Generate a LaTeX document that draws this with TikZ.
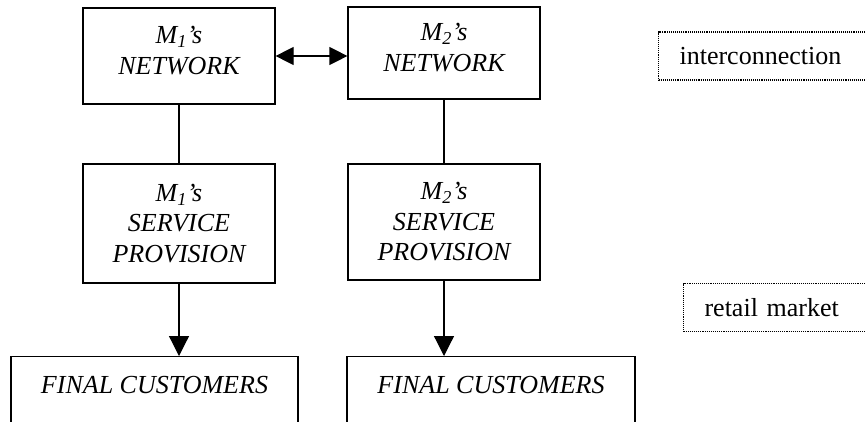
\documentclass[tikz,border=0pt]{standalone}
\usepackage{fontspec}
\setmainfont{Liberation Serif}
\usepackage{tikz}
\usetikzlibrary{arrows.meta, positioning}

\begin{document}
\begin{tikzpicture}[
		x=1pt, y=-1pt,
		font=\fontsize{26}{30.5}\selectfont,
		box/.style={draw, line width=1.2pt, align=center, font=\fontsize{26}{30.5}\selectfont\itshape, inner sep=0pt, minimum width=192pt},
		open/.style={draw, line width=1.2pt, font=\fontsize{26}{30.5}\selectfont\itshape, inner xsep=0pt, inner ysep=0pt, anchor=north, text height=37pt, text depth=70pt},
		note/.style={draw, densely dotted, line width=1.1pt, align=left, anchor=west, inner xsep=21pt, inner ysep=0pt, text width=200pt, minimum height=48pt},
		arr/.style={-{Triangle[length=20pt, width=20pt]}, line width=1.2pt},
		both/.style={{Triangle[length=18pt, width=18pt]}-{Triangle[length=18pt, width=18pt]}, line width=1.2pt}
	]
		\useasboundingbox (0,0) rectangle (866,421);
		\node[box, minimum height=96pt, text depth=11pt] (net1) at (179,56) {M\textsubscript{1}’s\\NETWORK};
		\node[box, minimum height=92pt, text depth=11pt] (net2) at (444,53) {M\textsubscript{2}’s\\NETWORK};
		\node[box, minimum height=119pt] (serv1) at (179,223.5) {M\textsubscript{1}’s\\SERVICE\\PROVISION};
		\node[box, minimum height=116pt] (serv2) at (444,222) {M\textsubscript{2}’s\\SERVICE\\PROVISION};
		\node[open, minimum width=287pt] (fin1) at (154.5,356) {FINAL CUSTOMERS};
		\node[open, minimum width=288pt] (fin2) at (491,356) {FINAL CUSTOMERS};
		\node[note] (inter) at (658,56) {interconnection};
		\node[note] (retail) at (683,307.5) {retail market};

		\draw[both] (net1.east) -- (net1.east -| net2.west);
		\draw[line width=1.2pt] (net1) -- (serv1);
		\draw[line width=1.2pt] (net2) -- (serv2);
		\draw[arr] (serv1.south) -- (serv1.south |- fin1.north);
		\draw[arr] (serv2.south) -- (serv2.south |- fin2.north);
	\end{tikzpicture}
\end{document}
